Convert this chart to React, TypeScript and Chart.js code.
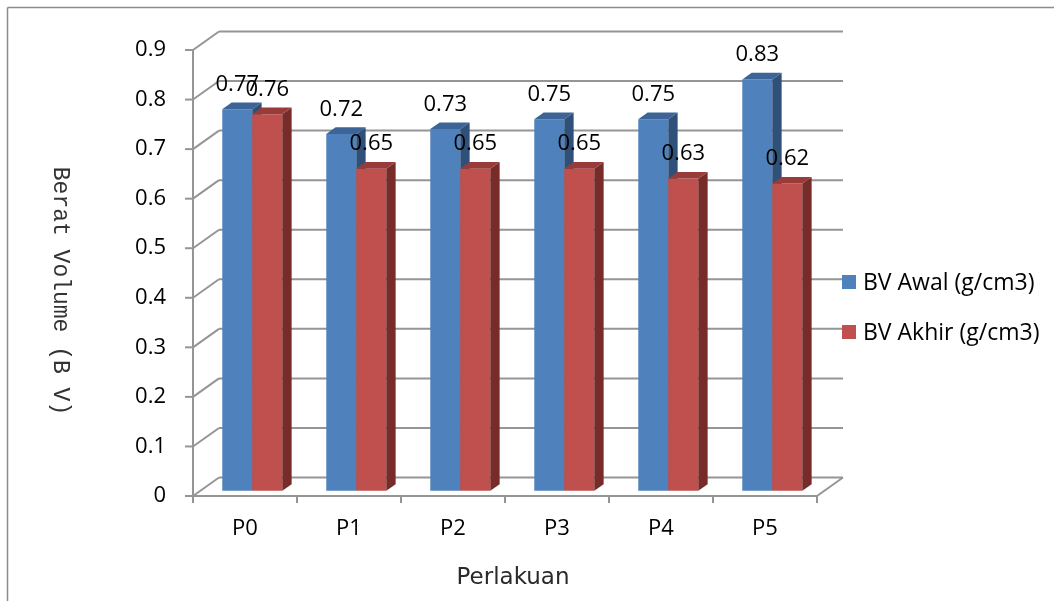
import { useEffect, useRef } from 'react';
import { Chart, registerables } from 'chart.js';

Chart.register(...registerables);

const categories = ['P0', 'P1', 'P2', 'P3', 'P4', 'P5'];
const bvAwal = [0.77, 0.72, 0.73, 0.75, 0.75, 0.83];
const bvAkhir = [0.76, 0.65, 0.65, 0.65, 0.63, 0.62];
const seriesNames = ['BV Awal (g/cm3)', 'BV Akhir (g/cm3)'];
const yMin = 0;
const yMax = 0.9;
const yStep = 0.1;
const xTitle = 'Perlakuan';
const yTitle = 'Berat Volume (B V)';

const FRONT = ['#4F81BD', '#C0504D'];
const TOP = ['#3C6496', '#983B39'];
const SIDE = ['#2F5079', '#772C2A'];
const GRID = '#959595';

// 3D wall depth offsets
const DX = 26;
const DY = -18.5;
const BAR_F1 = 0.28;
const BAR_F2 = 0.64;

const LABEL_FONT = '"Open Sans", "Noto Sans", sans-serif';

function line(ctx: CanvasRenderingContext2D, x1: number, y1: number, x2: number, y2: number) {
  ctx.beginPath();
  ctx.moveTo(x1, y1);
  ctx.lineTo(x2, y2);
  ctx.stroke();
}

function poly(ctx: CanvasRenderingContext2D, pts: number[][], color: string) {
  ctx.beginPath();
  ctx.moveTo(pts[0][0], pts[0][1]);
  for (let i = 1; i < pts.length; i++) ctx.lineTo(pts[i][0], pts[i][1]);
  ctx.closePath();
  ctx.fillStyle = color;
  ctx.fill();
}

const threeDPlugin = {
  id: 'threeD',
  beforeDraw(chart: any) {
    const { ctx } = chart;
    ctx.save();
    ctx.fillStyle = '#FFFFFF';
    ctx.fillRect(0, 0, chart.width, chart.height);
    ctx.strokeStyle = '#8C8C8C';
    ctx.lineWidth = 1.5;
    line(ctx, 7.5, 7.5, chart.width, 7.5);
    line(ctx, 7.5, 7.5, 7.5, chart.height);
    ctx.restore();
  },
  beforeDatasetsDraw(chart: any) {
    const { ctx, chartArea: a, scales } = chart;
    const x = scales.x;
    const y = scales.y;
    ctx.save();
    ctx.strokeStyle = GRID;
    ctx.lineWidth = 2;
    y.ticks.forEach((t: any) => {
      const py = y.getPixelForValue(t.value);
      line(ctx, a.left, py, a.left + DX, py + DY);
      line(ctx, a.left + DX, py + DY, a.right + DX, py + DY);
      line(ctx, a.left - 8, py, a.left, py);
    });
    line(ctx, a.left, a.top, a.left, a.bottom);
    line(ctx, a.left, a.bottom, a.right, a.bottom);
    line(ctx, a.right, a.bottom, a.right + DX, a.bottom + DY);
    const n = categories.length;
    const step = x.getPixelForValue(1) - x.getPixelForValue(0);
    for (let i = 0; i <= n; i++) {
      const px = x.getPixelForValue(0) - step / 2 + i * step;
      line(ctx, px, a.bottom, px, a.bottom + 7);
    }
    ctx.restore();
  },
  afterDatasetsDraw(chart: any) {
    const { ctx } = chart;
    const fx = DX * BAR_F1;
    const fy = DY * BAR_F1;
    const bx = DX * (BAR_F2 - BAR_F1);
    const by = DY * (BAR_F2 - BAR_F1);
    const metas = chart.data.datasets.map((_: any, di: number) => chart.getDatasetMeta(di));
    const labels: any[] = [];
    ctx.save();
    for (let i = 0; i < categories.length; i++) {
      metas.forEach((meta: any, di: number) => {
        const el = meta.data[i];
        const p = el.getProps(['x', 'y', 'base', 'width'], true);
        const xl = p.x - p.width / 2 + fx;
        const xr = p.x + p.width / 2 + fx;
        const yt = p.y + fy;
        const yb = p.base + fy;
        poly(ctx, [[xl, yt], [xr, yt], [xr, yb], [xl, yb]], FRONT[di]);
        poly(ctx, [[xr, yt], [xr + bx, yt + by], [xr + bx, yb + by], [xr, yb]], SIDE[di]);
        poly(ctx, [[xl, yt], [xr, yt], [xr + bx, yt + by], [xl + bx, yt + by]], TOP[di]);
        labels.push({ x: (xl + xr) / 2, y: yt - 18.5, text: String(chart.data.datasets[di].data[i]) });
      });
    }
    ctx.fillStyle = '#000000';
    ctx.font = `22px ${LABEL_FONT}`;
    ctx.textAlign = 'center';
    ctx.textBaseline = 'alphabetic';
    labels.forEach((l) => ctx.fillText(l.text, l.x, l.y));
    ctx.restore();
  },
  afterDraw(chart: any) {
    const { ctx } = chart;
    ctx.save();
    // legend
    ctx.font = `23px ${LABEL_FONT}`;
    ctx.textAlign = 'left';
    ctx.textBaseline = 'middle';
    seriesNames.forEach((name, i) => {
      const cy = 282 + i * 50;
      ctx.fillStyle = FRONT[i];
      ctx.fillRect(842, cy - 7, 14, 14);
      ctx.fillStyle = '#000000';
      ctx.fillText(name, 863, cy + 1);
    });
    // x title
    ctx.fillStyle = '#2A2A2A';
    ctx.font = '23px "DejaVu Sans", sans-serif';
    ctx.textAlign = 'center';
    ctx.textBaseline = 'middle';
    ctx.fillText(xTitle, 513, 578);
    // y title rotated clockwise
    ctx.translate(60, 291);
    ctx.rotate(Math.PI / 2);
    ctx.font = '23px "Liberation Mono", "DejaVu Sans Mono", monospace';
    ctx.fillStyle = '#333333';
    ctx.fillText(yTitle, 0, 0);
    ctx.restore();
  },
};

export default function App() {
  const canvasRef = useRef<HTMLCanvasElement | null>(null);

  useEffect(() => {
    const canvas = canvasRef.current;
    if (!canvas) return;
    const chart = new Chart(canvas, {
      type: 'bar',
      data: {
        labels: categories,
        datasets: [
          { label: seriesNames[0], data: bvAwal, backgroundColor: 'rgba(0,0,0,0)', categoryPercentage: 0.577, barPercentage: 1 },
          { label: seriesNames[1], data: bvAkhir, backgroundColor: 'rgba(0,0,0,0)', categoryPercentage: 0.577, barPercentage: 1 },
        ],
      },
      options: {
        animation: false,
        responsive: false,
        devicePixelRatio: 1,
        layout: { padding: { top: 50, right: 237, left: 0, bottom: 0 } },
        plugins: {
          legend: { display: false },
          tooltip: { enabled: false },
        },
        scales: {
          x: {
            grid: { display: false, drawTicks: false },
            border: { display: false },
            ticks: { font: { family: LABEL_FONT, size: 22 }, color: '#000000', padding: 20 },
            afterFit: (s: any) => { s.height = 105; },
          },
          y: {
            min: yMin,
            max: yMax,
            grid: { display: false, drawTicks: false },
            border: { display: false },
            ticks: {
              stepSize: yStep,
              font: { family: LABEL_FONT, size: 22 },
              color: '#000000',
              padding: 27,
              callback: (v: any) => String(Number(Number(v).toFixed(1))),
            },
            afterFit: (s: any) => { s.width = 193; },
          },
        },
      },
      plugins: [threeDPlugin],
    } as any);
    return () => chart.destroy();
  }, []);

  return (
    <div style={{ position: 'fixed', left: 0, top: 0, width: 1054, height: 601 }}>
      <canvas ref={canvasRef} width={1054} height={601} />
    </div>
  );
}
